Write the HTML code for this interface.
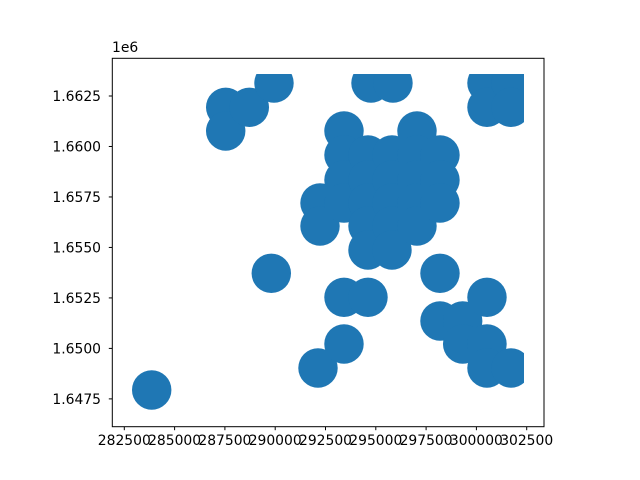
<!DOCTYPE html>
<html><head><meta charset="utf-8"><style>
html,body{margin:0;padding:0;background:#fff;}
svg{display:block;}
text{font-family:"DejaVu Sans","Liberation Sans",sans-serif;}
</style></head><body>
<svg id="chart" width="640" height="480" viewBox="0 0 640 480" xmlns="http://www.w3.org/2000/svg">
<defs><clipPath id="clip"><rect x="112.3" y="74" width="411.7" height="352.7"/></clipPath></defs>
<rect x="0" y="0" width="640" height="480" fill="#fff"/>
<g id="marks" clip-path="url(#clip)"></g>
<rect x="112.3" y="58.3" width="431.7" height="368.4" fill="none" stroke="#000" stroke-width="1"/>
<g id="xt"></g>
<g id="yt"></g>
<text x="112" y="52" font-size="13.9" fill="#000">1e6</text>
</svg>
<script>
const xValues = [283862,287540,287540,288713,289940,289806,292127,292227,292227,
293419,293419,293419,293419,294612,294612,294612,294612,294612,
295804,295804,295804,295804,295804,294761,295854,
297047,297047,297047,297047,297047,298190,298190,298190,298190,
293419,294612,293419,298190,299318,299318,300526,300526,301719,300526,
300526,300526,301719,301719];
const yValues = [1647941,1661940,1660767,1661940,1663144,1653720,1649030,1657201,1656062,
1660767,1659578,1658340,1657201,1659578,1658340,1657201,1656062,1654874,
1659578,1658340,1657201,1656062,1654874,1663144,1663144,
1660767,1659578,1658340,1657201,1656062,1659578,1658340,1657201,1653720,
1652531,1652531,1650219,1651358,1651358,1650219,1650219,1649030,1649030,1652531,
1663144,1661940,1663144,1661940];
const xTicks = [282500,285000,287500,290000,292500,295000,297500,300000,302500];
const xTickLabels = ["282500","285000","287500","290000","292500","295000","297500","300000","302500"];
const yTicks = [1662500,1660000,1657500,1655000,1652500,1650000,1647500];
const yTickLabels = ["1.6625","1.6600","1.6575","1.6550","1.6525","1.6500","1.6475"];
const radius = 980;

const NS = "http://www.w3.org/2000/svg";
function xs(v){return 124.3 + (v-282500)/2500*50.3;}
function ys(v){return 96 + (1662500-v)/2500*50.48;}
const marks = document.getElementById('marks');
const rpx = radius/2500*50.3;
for(let i=0;i<xValues.length;i++){
  const c=document.createElementNS(NS,'circle');
  
  
  c.setAttribute('cx',xs(xValues[i]));c.setAttribute('cy',ys(yValues[i]));
  c.setAttribute('r',rpx);c.setAttribute('fill','#1f77b4');
  marks.appendChild(c);
}
const xt=document.getElementById('xt');
xTicks.forEach((t,i)=>{
  const x=xs(t);
  const l=document.createElementNS(NS,'line');
  
  
  l.setAttribute('x1',x);l.setAttribute('x2',x);l.setAttribute('y1',426.7);l.setAttribute('y2',430.2);
  l.setAttribute('stroke','#000');xt.appendChild(l);
  const tx=document.createElementNS(NS,'text');
  
  
  tx.setAttribute('x',x-26.5);tx.setAttribute('y',445);
  tx.setAttribute('textLength','53');tx.setAttribute('lengthAdjust','spacingAndGlyphs');
  tx.setAttribute('font-size','13.9');tx.textContent=xTickLabels[i];xt.appendChild(tx);
});
const yt=document.getElementById('yt');
yTicks.forEach((t,i)=>{
  const y=ys(t);
  const l=document.createElementNS(NS,'line');
  
  
  l.setAttribute('x1',108.8);l.setAttribute('x2',112.3);l.setAttribute('y1',y);l.setAttribute('y2',y);
  l.setAttribute('stroke','#000');yt.appendChild(l);
  const tx=document.createElementNS(NS,'text');
  
  
  tx.setAttribute('x',101);tx.setAttribute('y',y+5);tx.setAttribute('text-anchor','end');
  tx.setAttribute('font-size','13.9');tx.textContent=yTickLabels[i];yt.appendChild(tx);
});
</script>
</body></html>
